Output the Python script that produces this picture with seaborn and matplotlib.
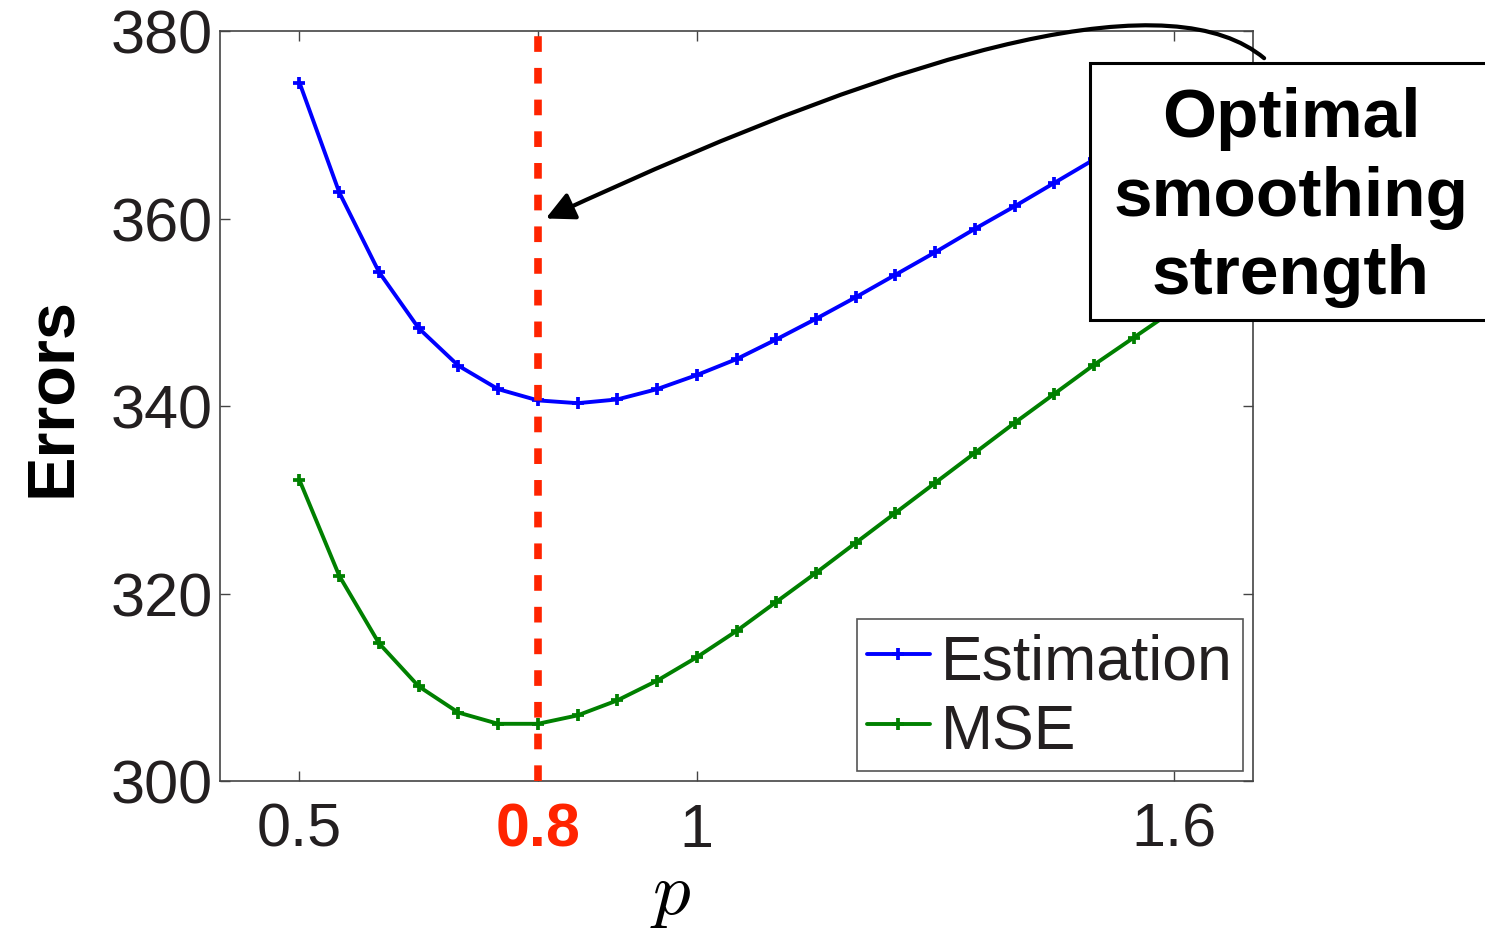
import matplotlib
matplotlib.use("Agg")
import matplotlib.pyplot as plt
from matplotlib.patches import Rectangle
import numpy as np
import pandas as pd
import seaborn as sns

# ---------------- data ----------------
p_values = [0.50, 0.55, 0.60, 0.65, 0.70, 0.75, 0.80, 0.85, 0.90, 0.95, 1.00, 1.05,
            1.10, 1.15, 1.20, 1.25, 1.30, 1.35, 1.40, 1.45, 1.50, 1.55, 1.60]
estimation = [374.5, 362.8, 354.3, 348.3, 344.3, 341.8, 340.6, 340.3, 340.7, 341.8, 343.3, 345.0,
              347.1, 349.3, 351.6, 354.0, 356.4, 358.9, 361.3, 363.8, 366.3, 368.9, 371.5]
mse = [332.1, 321.9, 314.7, 310.1, 307.3, 306.1, 306.1, 307.0, 308.6, 310.7, 313.2, 316.0,
       319.1, 322.2, 325.4, 328.6, 331.8, 335.0, 338.2, 341.3, 344.4, 347.3, 350.2]
series_names = ["Estimation", "MSE"]
x_ticks = [0.5, 0.8, 1.0, 1.6]
x_ticklabels = ["0.5", "0.8", "1", "1.6"]
y_ticks = [300, 320, 340, 360, 380]
optimal_p = 0.8
annotation_text = "Optimal\nsmoothing\nstrength"

# ---------------- style ----------------
sns.set_style("ticks")
plt.rcParams["font.family"] = ["Liberation Sans", "DejaVu Sans"]
plt.rcParams["mathtext.fontset"] = "cm"

TXT = "#231F20"
RED = "#FF2400"
palette = {"Estimation": "#0000FF", "MSE": "#008000"}

fig = plt.figure(figsize=(14.85, 9.29), dpi=100)
ax = fig.add_axes([220 / 1485, 1 - 782 / 929, 1033 / 1485, 750 / 929])

n = len(p_values)
df = pd.DataFrame({
    "p": p_values + p_values,
    "Errors": estimation + mse,
    "series": [series_names[0]] * n + [series_names[1]] * n,
})

sns.lineplot(data=df, x="p", y="Errors", hue="series", hue_order=series_names,
             palette=palette, marker="+", markersize=8.5, markeredgewidth=2.7,
             linewidth=2.8, ax=ax, zorder=3)
for line in ax.lines:
    line.set_markeredgecolor(line.get_color())

ax.axvline(optimal_p, color=RED, linewidth=5.5, dashes=(2.05, 2.1), zorder=4)

ax.set_xlim(0.4, 1.7)
ax.set_ylim(300, 380)
ax.set_xticks(x_ticks)
ax.set_xticklabels(x_ticklabels)
ax.set_yticks(y_ticks)

for s in ax.spines.values():
    s.set_visible(True)
    s.set_color("#444444")
    s.set_linewidth(1.2)

ax.tick_params(axis="both", direction="in", length=7, width=1, color="#444444",
               top=True, right=True, labelsize=44, labelcolor=TXT)
ax.tick_params(axis="x", pad=15)
ax.tick_params(axis="y", pad=5)

lab = ax.get_xticklabels()[1]
lab.set_color(RED)
lab.set_fontweight("bold")

ax.set_ylabel("Errors", fontsize=48, fontweight="bold", color="black")
ax.yaxis.set_label_coords(-0.132, 0.513)
ax.set_xlabel("$p$", fontsize=54, color="black")
ax.xaxis.set_label_coords(0.436, -0.107)

# legend
sns.move_legend(ax, "lower right", bbox_to_anchor=(0.990, 0.0133), title=None,
                fontsize=45, frameon=True, fancybox=False, framealpha=1,
                edgecolor="#555555", handlelength=1.0, handletextpad=0.18,
                handleheight=0.98, borderpad=0.16, labelspacing=0.125,
                borderaxespad=0.0)
leg = ax.get_legend()
leg.get_frame().set_linewidth(1.2)
for t in leg.get_texts():
    t.set_color(TXT)
for h, name in zip(leg.legend_handles, series_names):
    h.set_color(palette[name])
    h.set_markeredgecolor(palette[name])

# annotation arrow
ann = ax.annotate("", xy=(0.81, 360.0), xytext=(1.714, 377.1),
                  xycoords="data", textcoords="data", annotation_clip=False,
                  arrowprops=dict(arrowstyle="-|>,head_length=0.86,head_width=0.43",
                                  connectionstyle="angle3,angleA=140,angleB=25",
                                  color="black", lw=3, mutation_scale=20,
                                  shrinkA=0, shrinkB=0))
ann.arrow_patch.set_clip_on(False)

# annotation box + text
box = Rectangle((1090 / 1485, 1 - 321 / 929), 0.3, 257 / 929, transform=fig.transFigure,
                facecolor="white", edgecolor="black", linewidth=2.2, zorder=5,
                clip_on=False)
fig.patches.append(box)
fig.text(1291 / 1485, 1 - 87 / 929, annotation_text, ha="center", va="top",
         multialignment="center", fontsize=50, fontweight="bold", color="black",
         linespacing=1.29, zorder=6)

fig.savefig("out.png", dpi=100)
